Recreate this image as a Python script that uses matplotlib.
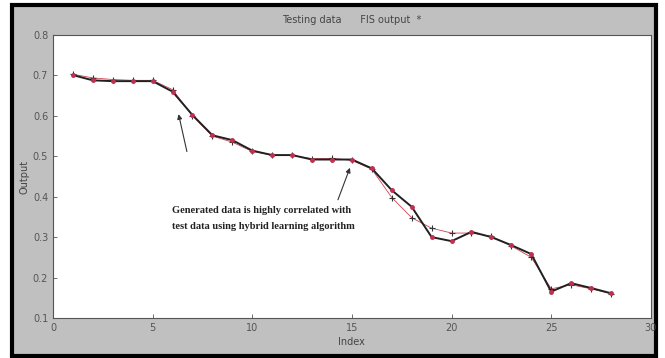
import matplotlib
matplotlib.use("Agg")
import matplotlib.pyplot as plt
from matplotlib.patches import Rectangle

# values
index = list(range(1, 29))
testing_data = [0.701, 0.688, 0.686, 0.686, 0.686, 0.660, 0.602, 0.552, 0.540, 0.514,
                0.503, 0.503, 0.492, 0.492, 0.492, 0.470, 0.416, 0.375, 0.300, 0.290,
                0.313, 0.300, 0.280, 0.258, 0.165, 0.186, 0.174, 0.161]
fis_output = [0.703, 0.694, 0.690, 0.688, 0.688, 0.665, 0.600, 0.550, 0.535, 0.512,
              0.503, 0.502, 0.494, 0.495, 0.490, 0.468, 0.398, 0.348, 0.322, 0.310,
              0.310, 0.302, 0.278, 0.250, 0.172, 0.182, 0.172, 0.160]
x_ticks = [0, 5, 10, 15, 20, 25, 30]
y_ticks = [0.1, 0.2, 0.3, 0.4, 0.5, 0.6, 0.7, 0.8]

gray = "#c0c0c0"
tick_font = ["Liberation Sans Narrow", "DejaVu Sans"]

fig = plt.figure(figsize=(6.65, 3.58), dpi=100)
fig.patch.set_facecolor("white")
# gray panel with black frame, like the matlab window capture
fig.patches.append(Rectangle((0.018, 0.005), 0.968, 0.98, transform=fig.transFigure,
                             facecolor=gray, edgecolor="black", linewidth=3, zorder=-5))

ax = fig.add_axes([0.0797, 0.112, 0.899, 0.79])
ax.set_facecolor("white")

ax.plot(index, fis_output, color="#d04050", linewidth=0.6, marker="+",
        markersize=5, markeredgecolor="#333333", markeredgewidth=0.8, zorder=2)
ax.plot(index, testing_data, color="#202020", linewidth=1.4, marker="o",
        markersize=2.5, markerfacecolor="#c03050", markeredgecolor="#c03050", zorder=3)

ax.set_xlim(0, 30)
ax.set_ylim(0.1, 0.8)
ax.set_xticks(x_ticks)
ax.set_yticks(y_ticks)
ax.set_yticklabels(["%.1f" % v for v in y_ticks])
ax.tick_params(direction="in", length=3, width=0.6, colors="#555555", labelsize=7,
               labelcolor="#555555")
for lab in ax.get_xticklabels() + ax.get_yticklabels():
    lab.set_family(tick_font)
for s in ax.spines.values():
    s.set_color("#555555")
    s.set_linewidth(0.8)

ax.set_title("Testing data      FIS output  *", fontsize=7, color="#444444",
             family=tick_font, pad=9)
ax.set_xlabel("Index", fontsize=7, color="#444444", family=tick_font, labelpad=3)
ax.set_ylabel("Output", fontsize=7, color="#444444", family=tick_font, labelpad=2)

# annotation text and arrows
ax.annotate("", xy=(6.27, 0.611), xytext=(6.75, 0.505),
            arrowprops=dict(arrowstyle="-|>", color="#333333", lw=0.8, mutation_scale=7))
ax.annotate("", xy=(14.95, 0.478), xytext=(14.25, 0.386),
            arrowprops=dict(arrowstyle="-|>", color="#333333", lw=0.8, mutation_scale=7))
ax.text(5.95, 0.365, "Generated data is highly correlated with", fontsize=7.5,
        family="Liberation Serif", fontweight="bold", color="#222222", va="center")
ax.text(5.95, 0.325, "test data using hybrid learning algorithm", fontsize=7.5,
        family="Liberation Serif", fontweight="bold", color="#222222", va="center")

fig.savefig("out.png", dpi=100)
